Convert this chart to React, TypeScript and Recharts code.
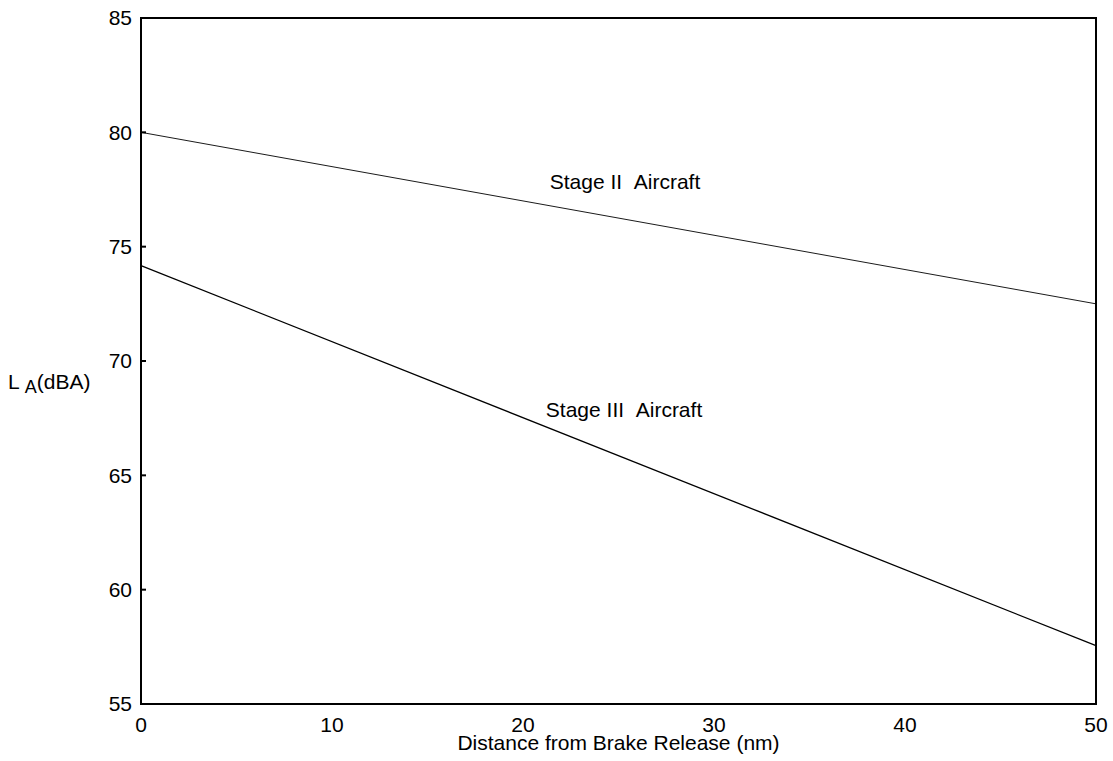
import React from 'react';
import { LineChart, Line, XAxis, YAxis, ReferenceDot, ReferenceArea, Label } from 'recharts';

const distances = [0, 50];
const stageII = [80.0, 72.5];
const stageIII = [74.17, 57.55];
const xTicks = [0, 10, 20, 30, 40, 50];
const yTicks = [55, 60, 65, 70, 75, 80, 85];
const seriesLabels = [
  { text: 'Stage II\u00A0\u00A0Aircraft', x: 25.34, y: 77.83 },
  { text: 'Stage III\u00A0\u00A0Aircraft', x: 25.29, y: 67.88 },
];
const xTitle = 'Distance from Brake Release (nm)';

const data = distances.map((d, i) => ({ d, s2: stageII[i], s3: stageIII[i] }));

const FONT = 'Liberation Sans, Arial, sans-serif';
const FS = 21;

const YTitle = () => (
  <text x={8} y={389} fontSize={FS} fontFamily={FONT} fill="#000">
    L
    <tspan dx={5} dy={4} fontSize={18}>A</tspan>
    <tspan dy={-4}>(dBA)</tspan>
  </text>
);

export default function App() {
  return (
    <div style={{ position: 'absolute', left: 0, top: 0, background: '#fff' }}>
      <LineChart
        width={1113}
        height={761}
        data={data}
        margin={{ top: 18, right: 17, bottom: 0, left: 0 }}
        style={{ fontFamily: FONT }}
      >
        <XAxis
          xAxisId="b"
          dataKey="d"
          type="number"
          domain={[0, 50]}
          ticks={xTicks}
          height={57}
          tickSize={0}
          tickMargin={13}
          tickLine={false}
          axisLine={{ stroke: '#000', strokeWidth: 2 }}
          tick={{ fill: '#000', fontSize: FS, fontFamily: FONT }}
        >
          <Label value={xTitle} position="insideBottom" offset={11} fill="#000" fontSize={FS} fontFamily={FONT} />
        </XAxis>
        <YAxis
          yAxisId="l"
          type="number"
          domain={[55, 85]}
          ticks={yTicks}
          width={141}
          tickSize={-5}
          tickMargin={14}
          tickLine={{ stroke: '#000', strokeWidth: 2 }}
          axisLine={{ stroke: '#000', strokeWidth: 2 }}
          tick={{ fill: '#000', fontSize: FS, fontFamily: FONT }}
        >
          <Label content={<YTitle />} />
        </YAxis>
        <ReferenceArea
          xAxisId="b"
          yAxisId="l"
          x1={0}
          x2={50}
          y1={55}
          y2={85}
          fill="none"
          fillOpacity={0}
          stroke="#000"
          strokeWidth={2}
          strokeOpacity={1}
        />
        <Line
          xAxisId="b"
          yAxisId="l"
          type="linear"
          dataKey="s2"
          stroke="#000"
          strokeWidth={0.9}
          dot={false}
          isAnimationActive={false}
        />
        <Line
          xAxisId="b"
          yAxisId="l"
          type="linear"
          dataKey="s3"
          stroke="#000"
          strokeWidth={1.3}
          dot={false}
          isAnimationActive={false}
        />
        {seriesLabels.map((l) => (
          <ReferenceDot
            key={l.text}
            xAxisId="b"
            yAxisId="l"
            x={l.x}
            y={l.y}
            r={0}
            fill="none"
            stroke="none"
          >
            <Label value={l.text} position="center" fill="#000" fontSize={FS} fontFamily={FONT} />
          </ReferenceDot>
        ))}
      </LineChart>
    </div>
  );
}
